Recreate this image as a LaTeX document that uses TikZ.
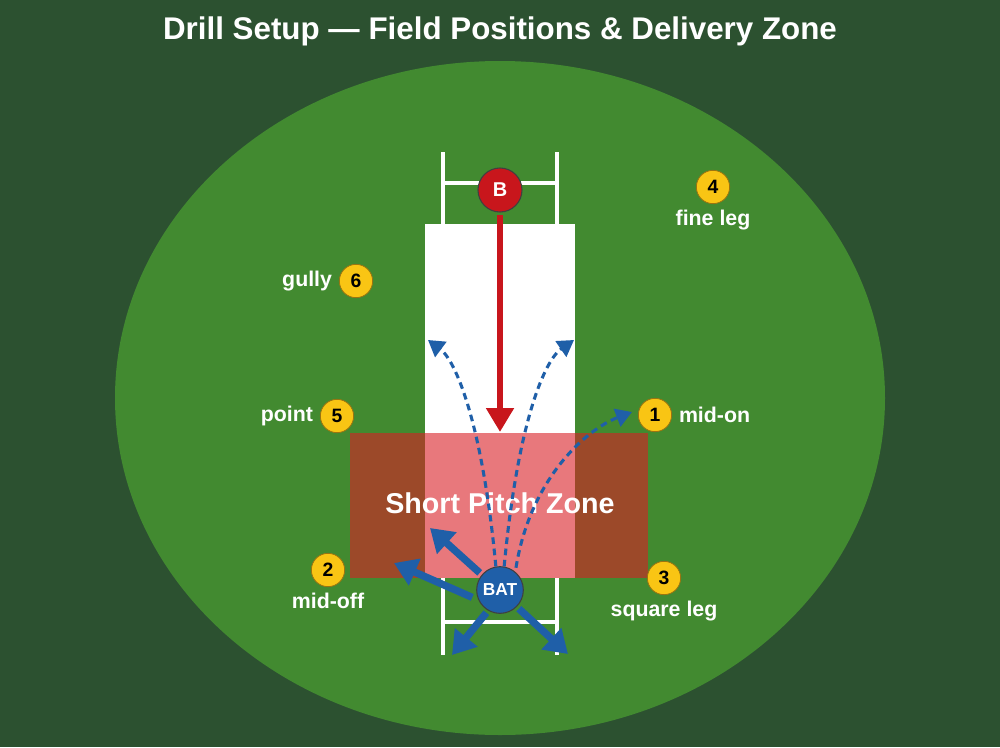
\documentclass[tikz,border=0pt]{standalone}
\usepackage{fontspec}
\setmainfont{Liberation Sans}
\usetikzlibrary{positioning,arrows.meta}

\definecolor{bgmid}{HTML}{2C5130}
\definecolor{field}{HTML}{428A30}
\definecolor{zonered}{RGB}{217,30,37}
\definecolor{ballred}{HTML}{C8161C}
\definecolor{batblue}{HTML}{1F5FA8}
\definecolor{fieldyel}{HTML}{F9C514}
\definecolor{fieldedge}{HTML}{9A7410}

\tikzset{
  fielder/.style={circle,fill=fieldyel,draw=fieldedge,line width=.6pt,
    minimum size=25pt,inner sep=0pt,font=\fontsize{14.5}{14}\selectfont\bfseries},
  poslabel/.style={text=white,inner sep=0pt,font=\fontsize{16}{18}\selectfont\bfseries},
  player/.style={circle,draw=black!75,line width=.8pt,minimum size=33pt,
    inner sep=0pt,text=white,font=\fontsize{15}{15}\selectfont\bfseries},
  crease/.style={white,line width=3pt},
  delivery/.style={ballred,line width=4.5pt,shorten <=2pt,
    -{Triangle[width=20pt,length=18pt]}},
  hit/.style={batblue,line width=2.3pt,dash pattern=on 5pt off 3.5pt,
    -{Triangle[width=14pt,length=12pt]}},
  shot/.style={batblue,line width=5.5pt,shorten <=2pt,
    -{Triangle[width=21pt,length=17pt]}},
}

\begin{document}
\begin{tikzpicture}[x=.75pt,y=-.75pt]
  \useasboundingbox (0,0) rectangle (1000,747);
  \fill[bgmid] (0,0) rectangle (1000,747);
  \fill[field] (500,398) ellipse [x radius=385,y radius=337];

  \node[text=white,font=\fontsize{23.5}{26}\selectfont\bfseries] (title) at (500,31)
    {Drill Setup — Field Positions \& Delivery Zone};

  % pitch and creases
  \fill[white] (425,224) rectangle (575,578);
  \foreach \t/\c/\b in {152/183/224, 578/622/655} {
    \draw[crease] (443,\t) -- (443,\b) (557,\t) -- (557,\b) (443,\c) -- (557,\c);
  }
  \fill[zonered,opacity=.6] (350,433) rectangle (648,578);
  \node[text=white,font=\fontsize{21.5}{24}\selectfont\bfseries] (zone) at (500,503)
    {Short Pitch Zone};

  \node[player,fill=ballred] (bowler) at (500,190) {B};
  \node[player,fill=batblue,minimum size=35pt,font=\fontsize{13}{13}\selectfont\bfseries]
    (bat) at (500,590) {BAT};

  % delivery
  \coordinate (pitchpt) at (500,432);
  \draw[delivery] (bowler) -- (pitchpt);

  % lofted hits
  \coordinate (h1) at (428,340);
  \coordinate (h2) at (574,340);
  \coordinate (h3) at (632,412);
  \draw[hit] (bat.100) .. controls (482,420) and (455,360) .. (h1);
  \draw[hit] (bat.80) .. controls (518,420) and (545,360) .. (h2);
  \draw[hit,shorten <=3pt] (bat.50) .. controls (530,480) and (585,430) .. (h3);

  % ground shots
  \coordinate (s1) at (430,528);
  \coordinate (s2) at (394,563);
  \coordinate (s3) at (452,655);
  \coordinate (s4) at (568,654);
  \draw[shot] (bat.140) -- (s1);
  \draw[shot,shorten <=5pt] (bat.205) -- (s2);
  \draw[shot] (bat.240) -- (s3);
  \draw[shot] (bat.315) -- (s4);

  % fielders
  \foreach \n/\x/\y in {1/655/415, 2/328/570, 3/664/578, 4/713/187, 5/337/416, 6/356/281}
    \node[fielder] (f\n) at (\x,\y) {\n};
  \node[poslabel,right=5pt of f1] (l1) {mid-on};
  \node[poslabel,below=4pt of f2] (l2) {mid-off};
  \node[poslabel,below=4pt of f3] (l3) {square leg};
  \node[poslabel,below=4pt of f4] (l4) {fine leg};
  \node[poslabel,left=5pt of f5] (l5) {point};
  \node[poslabel,left=5pt of f6] (l6) {gully};
\end{tikzpicture}
\end{document}
